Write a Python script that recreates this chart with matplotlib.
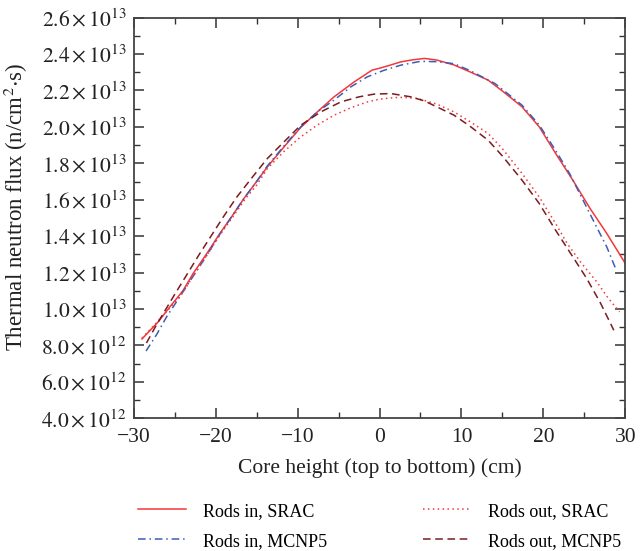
import matplotlib
matplotlib.use("Agg")
import matplotlib.pyplot as plt
from matplotlib.ticker import MultipleLocator, FuncFormatter

plt.rcParams['font.family'] = ['Liberation Serif', 'DejaVu Serif']
plt.rcParams['mathtext.fontset'] = 'stix'

# flux values in units of 1e13 n/(cm^2 s)
x_in_srac = [-29, -27, -25.6, -24, -22.75, -21, -19.5, -18, -16.55, -15, -13.7, -11.66,
             -9.62, -7.6, -5.55, -3.1, -0.9, 0, 1, 2.6, 4, 5.5, 7, 9.1, 11, 13.25, 15,
             17.4, 19.5, 21.5, 23.6, 25.7, 27.75, 30]
y_in_srac = [0.835, 0.93, 1.011, 1.10, 1.195, 1.31, 1.414, 1.51, 1.607, 1.70, 1.78, 1.89,
             1.997, 2.082, 2.165, 2.247, 2.312, 2.322, 2.335, 2.357, 2.368, 2.376, 2.367, 2.34,
             2.303, 2.257, 2.197, 2.110, 2.0, 1.854, 1.707, 1.552, 1.414, 1.25]

x_in_mcnp = [-28.5, -27.2, -26, -24.4, -22.75, -21, -19.5, -18, -16.55, -15, -13.7, -11.66,
             -9.62, -7.6, -5.55, -3.5, -1.48, 0.5, 2.6, 5, 7, 9.1, 11, 14.1, 17.4, 19.5,
             21.5, 23.2, 24.85, 26.5, 27.75, 28.9]
y_in_mcnp = [0.769, 0.86, 0.956, 1.066, 1.18, 1.30, 1.41, 1.51, 1.607, 1.70, 1.785, 1.895,
             2.0, 2.082, 2.147, 2.22, 2.275, 2.31, 2.339, 2.360, 2.358, 2.347, 2.31, 2.238,
             2.119, 2.01, 1.87, 1.744, 1.597, 1.45, 1.34, 1.213]

x_out_srac = [-29, -27, -25.6, -24, -22.75, -21, -19.5, -18, -16.35, -15, -13.7, -11.66,
              -9.62, -7.6, -5.55, -3.5, -1.48, 0, 1.78, 3, 4.63, 7, 9.1, 11, 13.25, 15,
              17.4, 19.5, 21.5, 22.9, 24.5, 26.5, 27.9, 29.3]
y_out_srac = [0.84, 0.935, 1.005, 1.09, 1.18, 1.30, 1.405, 1.50, 1.607, 1.68, 1.771, 1.865,
              1.945, 2.01, 2.064, 2.105, 2.137, 2.152, 2.161, 2.162, 2.156, 2.125, 2.082, 2.03,
              1.964, 1.88, 1.744, 1.615, 1.469, 1.36, 1.26, 1.15, 1.06, 0.984]

x_out_mcnp = [-28.45, -27.2, -26, -25, -23.5, -22, -20.5, -19, -17.4, -15.5, -13.7, -11.5,
              -9.62, -7.18, -4.73, -2.5, -0.66, 1.38, 3.83, 5.45, 7, 9.1, 11, 13.25, 15,
              17.4, 19.5, 21.5, 23.6, 25.3, 27, 28.6]
y_out_mcnp = [0.813, 0.915, 1.005, 1.08, 1.19, 1.30, 1.405, 1.51, 1.616, 1.725, 1.826, 1.925,
              2.009, 2.082, 2.137, 2.165, 2.18, 2.183, 2.165, 2.143, 2.11, 2.064, 2.005, 1.927,
              1.84, 1.707, 1.579, 1.432, 1.286, 1.167, 1.03, 0.883]

y_ticks = [0.4, 0.6, 0.8, 1.0, 1.2, 1.4, 1.6, 1.8, 2.0, 2.2, 2.4, 2.6]


def flux_label(v, pos):
    if v < 0.999:
        return r'$%.1f\times10^{12}$' % (v * 10)
    return r'$%.1f\times10^{13}$' % v


fig = plt.figure(figsize=(6.4, 5.51), dpi=100)
ax = fig.add_axes([0.209, 0.241, 0.768, 0.727])

red = '#f2383a'
ax.plot(x_in_srac, y_in_srac, color=red, lw=1.1, ls='-', label='Rods in, SRAC')
ax.plot(x_in_mcnp, y_in_mcnp, color='#3d5db4', lw=1.1, ls=(0, (5, 2.5, 1, 2.5)),
        label='Rods in, MCNP5')
ax.plot(x_out_srac, y_out_srac, color=red, lw=1.1, ls=(0, (1, 2.2)), label='Rods out, SRAC')
ax.plot(x_out_mcnp, y_out_mcnp, color='#7b1c1f', lw=1.1, ls=(0, (5, 3)),
        label='Rods out, MCNP5')

ax.set_xlim(-30, 30)
ax.set_ylim(0.4, 2.6)
ax.xaxis.set_major_locator(MultipleLocator(10))
ax.xaxis.set_minor_locator(MultipleLocator(5))
ax.set_yticks(y_ticks)
ax.yaxis.set_minor_locator(MultipleLocator(0.1))
ax.yaxis.set_major_formatter(FuncFormatter(flux_label))
ax.xaxis.set_major_formatter(FuncFormatter(lambda v, p: ('\u2212%d' % -v) if v < 0 else '%d' % v))

ax.tick_params(which='both', direction='in', top=True, right=True, color='#333333',
               labelsize=15.5, labelcolor='#222222')
ax.tick_params(which='major', length=7, width=1.1)
ax.tick_params(which='minor', length=4, width=1.0)
ax.tick_params(axis='x', pad=7)
ax.tick_params(axis='y', pad=5)
for s in ax.spines.values():
    s.set_color('#444444')
    s.set_linewidth(1.3)

ax.set_xlabel('Core height (top to bottom) (cm)', fontsize=15.5, color='#222222', labelpad=8)
ax.set_ylabel(r'Thermal neutron flux (n/cm$^2$$\cdot$s)', fontsize=16.5, color='#222222')
ax.yaxis.set_label_coords(-0.212, 0.527)

fig.legend(loc='lower left', bbox_to_anchor=(0.19, -0.027), ncol=2, frameon=False,
           fontsize=13, handlelength=2.65, columnspacing=5.3, labelspacing=0.72,
           handletextpad=0.95)

fig.savefig('out.png', dpi=100)
